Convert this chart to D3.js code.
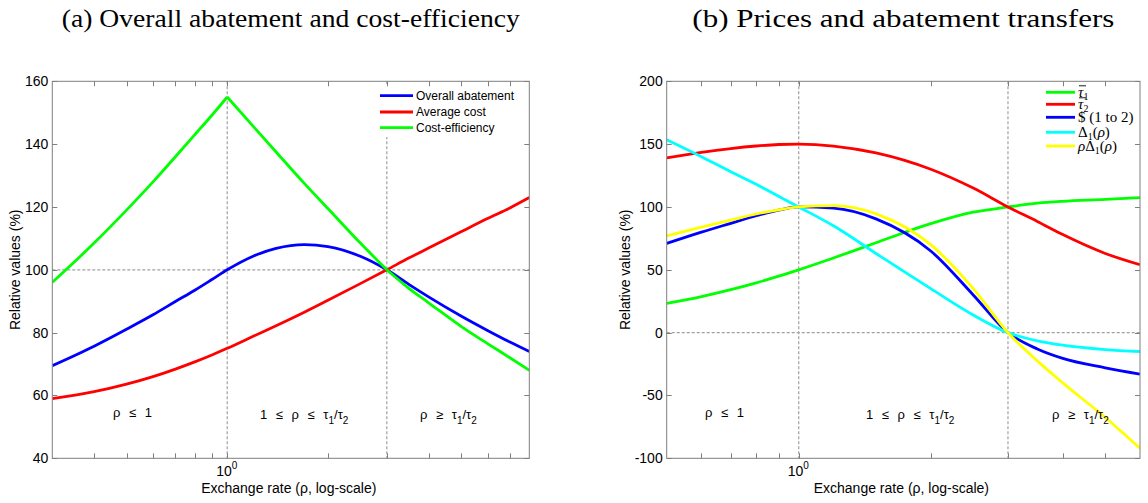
<!DOCTYPE html>
<html><head><meta charset="utf-8">
<script src="https://cdn.jsdelivr.net/npm/d3@7/dist/d3.min.js"></script>
<style>body{margin:0;background:#fff} svg{display:block}</style>
</head><body>
<svg id="chart" width="1148" height="503"></svg>
<script>
// ---------- Panel (a) data ----------
const rhoA = [0.3,0.4,0.5,0.6,0.7,0.8,0.9,1,1.2,1.4,1.7,2,2.5,3,3.5,4,5,6,7,8];
const overallAbatement = [69.5,75.7,81.1,85.7,89.9,93.5,96.9,100,104.4,106.8,108,107.4,104.3,100,95.3,91.4,85.3,80.7,77,74];
const averageCost      = [59,61.2,63.6,66,68.4,70.7,72.9,75,78.9,82.2,86.5,90.3,95.6,100,103.8,106.9,112.1,116.3,119.7,123];
const costEfficiency   = [96,108.5,119,128,136,143,149.2,155,145.5,137.5,127.5,119.5,108.5,100,94,89.5,82,76.5,72,68];
const yTicksA = [40,60,80,100,120,140,160];
const xTicksA = [0.4,0.5,0.6,0.7,0.8,0.9,1,2,3,4,5,6,7];
const legendA = ["Overall abatement","Average cost","Cost-efficiency"];

// ---------- Panel (b) data ----------
const rhoB = [0.5,0.6,0.7,0.8,0.9,1,1.2,1.5,2,2.5,3,3.5,4,5,6];
const tauBar1 = [23.2,28.7,34.2,39.6,44.9,50,59.4,71.5,86.7,95.8,100,103,104.5,106,107.5];
const tauBar2 = [139,143.5,146.5,148.5,149.7,150,148.5,143,130,115,100,88.5,78,63,54];
const dollar12 = [71,80,87,93,97.5,100,99,90.5,65,30,0,-13,-20.5,-28,-33];
const delta1   = [153.5,140,128,118,108.5,100,85,63,35,14,0,-6.5,-10,-13.5,-15];
const rhoDelta1= [77,84,89.6,94.4,97.7,100,101,94.5,70,35,0,-22.5,-40,-67.5,-92];
const yTicksB = [-100,-50,0,50,100,150,200];
const xTicksB = [0.6,0.7,0.8,0.9,1,2,3,4,5];

const svg = d3.select("#chart");
const SANS = "'Liberation Sans', Arial, Helvetica, sans-serif";
const SERIF = "'Liberation Serif', 'Times New Roman', Times, serif";
const AXIS_COL = "#7f7f7f";
const REF_COL = "#a0a0a0";

function drawPanel(o) {
  const x = d3.scaleLog().domain(o.xDomain).range([o.x0, o.x1]);
  const y = d3.scaleLinear().domain(o.yDomain).range([o.y1, o.y0]);
  const g = svg.append("g");
  const clipId = "clip" + o.id;
  svg.append("defs").append("clipPath").attr("id", clipId)
    .append("rect").attr("x", o.x0).attr("y", o.y0).attr("width", o.x1 - o.x0).attr("height", o.y1 - o.y0);

  g.append("text").attr("x", (o.x0 + o.x1) / 2).attr("y", 27)
    .attr("text-anchor", "middle").attr("font-family", SERIF).attr("font-size", 25)
    .attr("textLength", o.titleWidth).attr("lengthAdjust", "spacingAndGlyphs")
    .attr("fill", "#000").text(o.title);

  const ref = g.append("g").attr("stroke", REF_COL).attr("stroke-width", 1.2)
    .attr("stroke-dasharray", "3,2").attr("fill", "none");
  ref.append("line").attr("x1", o.x0).attr("x2", o.x1).attr("y1", y(o.refY)).attr("y2", y(o.refY));
  o.refX.forEach(v => ref.append("line").attr("x1", x(v)).attr("x2", x(v)).attr("y1", o.y0).attr("y2", o.y1));

  const cg = g.append("g").attr("clip-path", `url(#${clipId})`);
  o.series.forEach(s => {
    const pts = s.values.map((v, i) => [s.x[i], v]);
    const segs = [];
    if (s.breaks) {
      let cur = [];
      pts.forEach(p => { cur.push(p); if (s.breaks.includes(p[0])) { segs.push(cur); cur = [p]; } });
      if (cur.length > 1) segs.push(cur);
    } else segs.push(pts);
    const line = d3.line().x(d => x(d[0])).y(d => y(d[1])).curve(d3.curveMonotoneX);
    segs.forEach(sg => cg.append("path").attr("d", line(sg)).attr("fill", "none")
      .attr("stroke", s.color).attr("stroke-width", 2.8).attr("stroke-linejoin", "round"));
  });

  if (o.legendBg) {
    g.append("rect").attr("x", o.legendBg[0]).attr("y", o.legendBg[1])
      .attr("width", o.legendBg[2]).attr("height", o.legendBg[3]).attr("fill", "#fff");
  }
  o.legendItems.forEach((it, i) => {
    const ly = o.legendY[i];
    g.append("line").attr("x1", o.legendX).attr("x2", o.legendX + o.legendLen)
      .attr("y1", ly).attr("y2", ly).attr("stroke", it.color).attr("stroke-width", 2.8);
    it.render(g, o.legendX + o.legendLen + 3, ly);
  });

  o.regions.forEach(r => {
    const t = g.append("text").attr("x", r.x).attr("y", r.y).attr("font-family", SANS)
      .attr("font-size", 13).attr("word-spacing", 5).attr("fill", "#000");
    r.parts.forEach(p => {
      if (p.sub) t.append("tspan").attr("font-size", 10).attr("dy", 5).text(p.t);
      else t.append("tspan").attr("dy", p.back ? -5 : 0).text(p.t);
    });
  });

  const ax = g.append("g");
  ax.append("rect").attr("x", o.x0).attr("y", o.y0).attr("width", o.x1 - o.x0).attr("height", o.y1 - o.y0)
    .attr("fill", "none").attr("stroke", AXIS_COL).attr("stroke-width", 1);
  const tl = 5;
  o.xTicks.forEach(v => {
    const xp = Math.round(x(v)) + 0.5;
    ax.append("line").attr("x1", xp).attr("x2", xp).attr("y1", o.y1).attr("y2", o.y1 - tl).attr("stroke", AXIS_COL);
    ax.append("line").attr("x1", xp).attr("x2", xp).attr("y1", o.y0).attr("y2", o.y0 + tl).attr("stroke", AXIS_COL);
  });
  o.yTicks.forEach(v => {
    const yp = Math.round(y(v)) + 0.5;
    ax.append("line").attr("x1", o.x0).attr("x2", o.x0 + tl).attr("y1", yp).attr("y2", yp).attr("stroke", AXIS_COL);
    ax.append("line").attr("x1", o.x1).attr("x2", o.x1 - tl).attr("y1", yp).attr("y2", yp).attr("stroke", AXIS_COL);
    ax.append("text").attr("x", o.x0 - 4).attr("y", y(v)).attr("dy", "0.35em")
      .attr("text-anchor", "end").attr("font-family", SANS).attr("font-size", 14).attr("fill", "#000").text(v);
  });
  const lab = ax.append("text").attr("x", x(1) - 11).attr("y", 476).attr("font-family", SANS)
    .attr("font-size", 14).attr("fill", "#000");
  lab.append("tspan").text("10");
  lab.append("tspan").attr("font-size", 10).attr("dy", -7).text("0");
  g.append("text").attr("x", (o.x0 + o.x1) / 2 - 2).attr("y", 493).attr("text-anchor", "middle")
    .attr("font-family", SANS).attr("font-size", 14).attr("fill", "#000").text("Exchange rate (ρ, log-scale)");
  g.append("text").attr("transform", `translate(${o.yLabelX},${(o.y0 + o.y1) / 2}) rotate(-90)`)
    .attr("text-anchor", "middle").attr("dy", "0.35em")
    .attr("font-family", SANS).attr("font-size", 14).attr("fill", "#000").text("Relative values (%)");
}

function sansLegend(label) {
  return (g, x, y) => g.append("text").attr("x", x).attr("y", y).attr("dy", "0.35em")
    .attr("font-family", SANS).attr("font-size", 12).attr("fill", "#000").text(label);
}
function texLegend(parts, barFirst) {
  return (g, x, y) => {
    const t = g.append("text").attr("x", x).attr("y", y + 4.5).attr("font-family", SERIF)
      .attr("font-size", 15).attr("fill", "#000");
    parts.forEach(p => {
      const ts = t.append("tspan").text(p.t);
      if (p.it) ts.attr("font-style", "italic");
      if (p.sub) ts.attr("font-size", 10).attr("dy", 3);
      if (p.up) ts.attr("dy", -3);
    });
    if (barFirst) g.append("line").attr("x1", x + 1).attr("x2", x + 8).attr("y1", y - 6.5).attr("y2", y - 6.5)
      .attr("stroke", "#000").attr("stroke-width", 0.9);
  };
}

drawPanel({
  id: "a", title: "(a) Overall abatement and cost-efficiency", titleWidth: 458,
  x0: 52.3, x1: 529.3, y0: 81.3, y1: 458.3, xDomain: [0.3, 8], yDomain: [40, 160],
  xTicks: xTicksA, yTicks: yTicksA, refY: 100, refX: [1, 3], yLabelX: 15,
  series: [
    { x: rhoA, values: overallAbatement, color: "#0000ff" },
    { x: rhoA, values: averageCost, color: "#ff0000" },
    { x: rhoA, values: costEfficiency, color: "#00ff00", breaks: [1, 3] }
  ],
  legendBg: [372, 84, 155, 53], legendX: 380, legendLen: 33, legendY: [95.7, 112, 127.7],
  legendItems: [
    { color: "#0000ff", render: sansLegend(legendA[0]) },
    { color: "#ff0000", render: sansLegend(legendA[1]) },
    { color: "#00ff00", render: sansLegend(legendA[2]) }
  ],
  regions: [
    { x: 113, y: 417, parts: [{ t: "ρ ≤ 1" }] },
    { x: 260, y: 419, parts: [{ t: "1 ≤ ρ ≤ τ" }, { t: "1", sub: true }, { t: "/τ", back: true }, { t: "2", sub: true }] },
    { x: 420, y: 419, parts: [{ t: "ρ ≥ τ" }, { t: "1", sub: true }, { t: "/τ", back: true }, { t: "2", sub: true }] }
  ]
});

drawPanel({
  id: "b", title: "(b) Prices and abatement transfers", titleWidth: 422,
  x0: 666.7, x1: 1140, y0: 81.3, y1: 458.3, xDomain: [0.5, 6], yDomain: [-100, 200],
  xTicks: xTicksB, yTicks: yTicksB, refY: 0, refX: [1, 3], yLabelX: 625,
  series: [
    { x: rhoB, values: tauBar1, color: "#00ff00" },
    { x: rhoB, values: tauBar2, color: "#ff0000" },
    { x: rhoB, values: dollar12, color: "#0000ff" },
    { x: rhoB, values: delta1, color: "#00ffff" },
    { x: rhoB, values: rhoDelta1, color: "#ffff00" }
  ],
  legendBg: null, legendX: 1046, legendLen: 29, legendY: [92.3, 104.3, 117.3, 132.3, 146],
  legendItems: [
    { color: "#00ff00", render: texLegend([{ t: "τ", it: true }, { t: "1", sub: true }], true) },
    { color: "#ff0000", render: texLegend([{ t: "τ", it: true }, { t: "2", sub: true }], true) },
    { color: "#0000ff", render: texLegend([{ t: "$ (1 to 2)" }], false) },
    { color: "#00ffff", render: texLegend([{ t: "Δ" }, { t: "1", sub: true }, { t: "(", up: true }, { t: "ρ", it: true }, { t: ")" }], false) },
    { color: "#ffff00", render: texLegend([{ t: "ρ", it: true }, { t: "Δ" }, { t: "1", sub: true }, { t: "(", up: true }, { t: "ρ", it: true }, { t: ")" }], false) }
  ],
  regions: [
    { x: 705, y: 417, parts: [{ t: "ρ ≤ 1" }] },
    { x: 866, y: 419, parts: [{ t: "1 ≤ ρ ≤ τ" }, { t: "1", sub: true }, { t: "/τ", back: true }, { t: "2", sub: true }] },
    { x: 1052, y: 419, parts: [{ t: "ρ ≥ τ" }, { t: "1", sub: true }, { t: "/τ", back: true }, { t: "2", sub: true }] }
  ]
});
</script>
</body></html>
